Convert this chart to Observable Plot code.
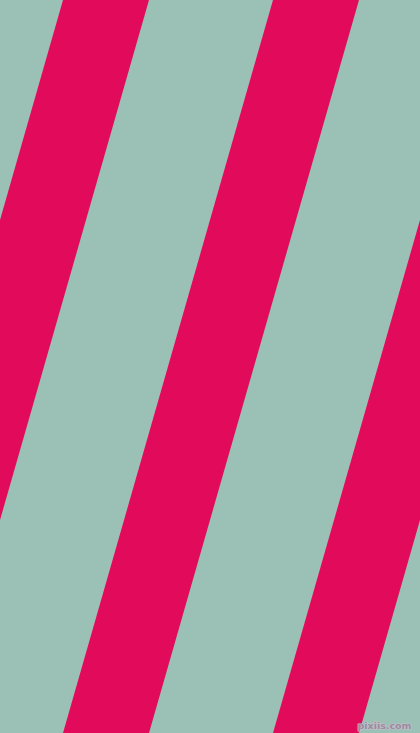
<!DOCTYPE html>
<html>
<head>
<meta charset="utf-8">
<script src="https://cdn.jsdelivr.net/npm/d3@7"></script>
<script src="https://cdn.jsdelivr.net/npm/@observablehq/plot@0.6"></script>
<style>
html, body { margin: 0; padding: 0; overflow: hidden; background: #9BC1B6; }
#chart svg { display: block; }
</style>
</head>
<body>
<div id="chart"></div>
<script>
// Stripe left-edge x positions at the top (y = 0) and bottom (y = 733) of the picture
const stripeIds = [0, 1, 2];
const stripeTopLeft = [63, 273, 483];
const stripeBottomLeft = [-147, 63, 273];
const stripeWidth = 86;
const yEnds = [0, 733];
const watermark = ["pixiis.com"];

const rows = stripeIds.flatMap((id, i) => [
  {stripe: id, y: yEnds[0], x1: stripeTopLeft[i], x2: stripeTopLeft[i] + stripeWidth},
  {stripe: id, y: yEnds[1], x1: stripeBottomLeft[i], x2: stripeBottomLeft[i] + stripeWidth}
]);

const chart = Plot.plot({
  width: 420,
  height: 733,
  margin: 0,
  x: {domain: [0, 420], axis: null},
  y: {domain: [0, 733], axis: null, reverse: true},
  style: {background: "#9BC1B6"},
  marks: [
    Plot.areaX(rows, {y: "y", x1: "x1", x2: "x2", z: "stripe", fill: "#E20B5B", clip: true}),
    Plot.text(watermark, {
      frameAnchor: "bottom-right", dx: -9, dy: -5,
      fontSize: 9.5, fontFamily: "DejaVu Sans", fontWeight: "bold",
      fill: "#9b8aa0", stroke: "#c8c2cc", strokeWidth: 1.2
    })
  ]
});
document.getElementById("chart").appendChild(chart);
</script>
</body>
</html>
